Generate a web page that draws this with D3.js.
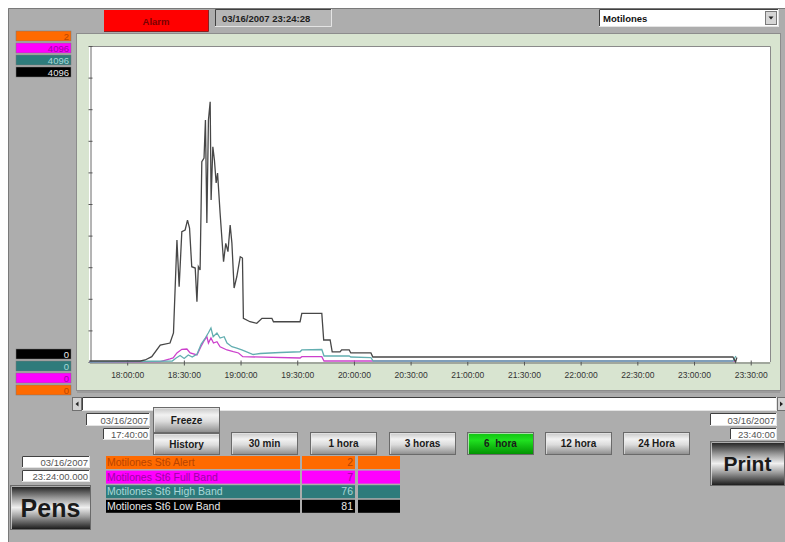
<!DOCTYPE html>
<html>
<head>
<meta charset="utf-8">
<script src="https://cdn.jsdelivr.net/npm/d3@7"></script>
<style>
  body { margin: 0; background: #fff; }
  svg { display: block; font-family: "Liberation Sans", Arial, sans-serif; }
</style>
</head>
<body>
<div id="chart"></div>
<script>
// pens: name, current value, scale min/max
var penNames = ["Motilones St6 Alert", "Motilones St6 Full Band", "Motilones St6 High Band", "Motilones St6 Low Band"];
var penValues = [2, 7, 76, 81];
var penMax = [2, 4096, 4096, 4096];
var penMin = [0, 0, 0, 0];

// x ticks
var tickLabels = ["18:00:00", "18:30:00", "19:00:00", "19:30:00", "20:00:00", "20:30:00",
  "21:00:00", "21:30:00", "22:00:00", "22:30:00", "23:00:00", "23:30:00"];
var timeStart = "17:40:00", timeEnd = "23:40:00";
var timeButtons = ["30 min", "1 hora", "3 horas", "6  hora", "12 hora", "24 Hora"];

// series [time, value]
var lowBand = [
  ["17:40:00", 13], ["18:07:00", 13], ["18:09:30", 26], ["18:13:00", 69], ["18:17:30", 220],
  ["18:22:40", 246], ["18:24:30", 376], ["18:26:20", 1581], ["18:27:30", 976], ["18:28:55", 1689],
  ["18:30:40", 1711], ["18:31:55", 1840], ["18:33:00", 1737], ["18:34:10", 1235], ["18:36:00", 1218],
  ["18:36:55", 781], ["18:37:40", 1235], ["18:38:35", 1192], ["18:39:30", 2596], ["18:40:40", 2644],
  ["18:41:25", 3136], ["18:42:10", 1801], ["18:43:00", 3136], ["18:43:55", 3373], ["18:44:25", 2100],
  ["18:45:20", 2790], ["18:46:10", 2618], ["18:47:05", 2320], ["18:47:50", 2449], ["18:49:10", 1931],
  ["18:51:00", 1300], ["18:52:10", 1538], ["18:53:20", 1430], ["18:54:30", 1776], ["18:55:25", 1542],
  ["18:56:35", 959], ["18:58:00", 1105], ["18:59:50", 1365], ["19:01:00", 1348], ["19:01:30", 566],
  ["19:05:00", 522], ["19:08:35", 502], ["19:11:20", 566], ["19:16:35", 566], ["19:17:25", 522],
  ["19:31:30", 522], ["19:32:25", 629], ["19:43:00", 629], ["19:44:00", 285], ["19:47:25", 285],
  ["19:48:30", 130], ["19:52:40", 130], ["19:53:30", 156], ["19:57:30", 156], ["19:58:20", 117],
  ["20:09:00", 117], ["20:10:00", 65], ["23:20:35", 65], ["23:22:00", 0], ["23:22:40", 58]
];
var highBand = [
  ["17:40:00", 0], ["18:23:50", 13], ["18:25:55", 52], ["18:28:00", 84], ["18:30:10", 45],
  ["18:32:20", 91], ["18:34:25", 65], ["18:37:00", 104], ["18:39:10", 233], ["18:41:20", 311],
  ["18:42:55", 376], ["18:44:20", 441], ["18:45:30", 328], ["18:47:30", 376], ["18:49:10", 311],
  ["18:51:20", 328], ["18:52:50", 246], ["18:55:25", 198], ["18:58:00", 181], ["19:00:40", 156],
  ["19:06:40", 97], ["19:10:25", 110], ["19:21:00", 123], ["19:31:30", 133], ["19:32:25", 156],
  ["19:43:00", 162], ["19:44:10", 78], ["19:57:30", 78], ["19:58:20", 65], ["20:09:00", 58],
  ["20:10:10", 13], ["23:20:35", 13], ["23:22:10", 78]
];
var fullBand = [
  ["17:40:00", 0], ["18:17:30", 6], ["18:22:40", 39], ["18:24:20", 52], ["18:26:20", 117],
  ["18:28:55", 165], ["18:31:35", 168], ["18:33:20", 117], ["18:36:55", 91], ["18:39:00", 198],
  ["18:40:25", 263], ["18:42:10", 328], ["18:43:00", 246], ["18:44:20", 311], ["18:45:40", 246],
  ["18:47:30", 263], ["18:49:10", 198], ["18:52:50", 156], ["18:56:10", 133], ["18:58:55", 117],
  ["19:01:10", 69], ["19:31:30", 52], ["19:32:25", 69], ["19:43:00", 69], ["19:44:10", 13],
  ["23:22:10", 13]
];

// 0:orange 1:magenta 2:teal 3:black
var penFill = ["#ff6a00", "#ff00ff", "#2e7b7b", "#000000"];
var penText = ["#b84400", "#a000a8", "#a8d8d8", "#e8e8e8"];

var parse = d3.timeParse("%H:%M:%S");
var W = 785, H = 542;

var svg = d3.select("#chart").append("svg")
  .attr("width", W)
  .attr("height", H);

var defs = svg.append("defs");
function grad(id, stops) {
  var g = defs.append("linearGradient").attr("id", id)
    .attr("x1", 0).attr("y1", 0).attr("x2", 0).attr("y2", 1);
  stops.forEach(function(s){ g.append("stop").attr("offset", s[0]).attr("stop-color", s[1]); });
}
grad("silver", [[0, "#c4c4c4"], [0.3, "#f2f2f2"], [0.55, "#dcdcdc"], [1, "#8c8c8c"]]);
grad("green", [[0, "#10c010"], [0.35, "#20e020"], [1, "#009000"]]);
grad("big", [[0, "#181818"], [0.3, "#a0a0a0"], [0.5, "#f0f0f0"], [0.7, "#a0a0a0"], [1, "#181818"]]);

// background
svg.append("rect").attr("width", W).attr("height", H).attr("fill", "#fff");
svg.append("rect").attr("x", 8).attr("y", 8).attr("width", W - 8).attr("height", H - 8).attr("fill", "#adadad");
svg.append("path").attr("d", "M8.5," + H + "V8.5H" + W).attr("fill", "none").attr("stroke", "#7a7a7a");

// sunken box helper
function sunken(x, y, w, h, fill) {
  var g = svg.append("g");
  g.append("rect").attr("x", x).attr("y", y).attr("width", w).attr("height", h).attr("fill", fill);
  g.append("path").attr("d", "M" + (x + .5) + "," + (y + h) + "V" + (y + .5) + "H" + (x + w))
    .attr("fill", "none").attr("stroke", "#404040");
  g.append("path").attr("d", "M" + (x + w - .5) + "," + y + "V" + (y + h - .5) + "H" + x)
    .attr("fill", "none").attr("stroke", "#e4e4e4");
  return g;
}

function button(x, y, w, h, label, fillId, size) {
  var g = svg.append("g");
  g.append("rect").attr("x", x + .5).attr("y", y + .5).attr("width", w - 1).attr("height", h - 1)
    .attr("fill", "url(#" + fillId + ")").attr("stroke", "#6a6a6a");
  g.append("path").attr("d", "M" + (x + 1.5) + "," + (y + h - 1) + "V" + (y + 1.5) + "H" + (x + w - 1))
    .attr("fill", "none").attr("stroke", "#e8e8e8").attr("opacity", 0.7);
  g.append("text").attr("x", x + w / 2).attr("y", y + h / 2 + size * 0.36)
    .attr("text-anchor", "middle").attr("font-weight", "bold").attr("font-size", size)
    .attr("fill", "#1a1a1a").style("white-space", "pre").text(label);
  return g;
}

// top bar
svg.append("rect").attr("x", 104).attr("y", 10).attr("width", 104).attr("height", 21).attr("fill", "#ff0000");
svg.append("path").attr("d", "M208.5,10V31.5H104").attr("fill", "none").attr("stroke", "#8a2020");
svg.append("text").attr("x", 156).attr("y", 24.5).attr("text-anchor", "middle")
  .attr("font-size", 9.5).attr("font-weight", "bold").attr("fill", "#7a0000").text("Alarm");

sunken(215, 9, 117, 18, "#b6b6b6");
svg.append("text").attr("x", 222).attr("y", 21.5).attr("font-size", 9.5).attr("font-weight", "bold")
  .attr("fill", "#1e1e1e").text("03/16/2007 23:24:28");

sunken(599, 9, 180, 18, "#ffffff");
svg.append("text").attr("x", 603).attr("y", 21.5).attr("font-size", 9.5).attr("font-weight", "bold")
  .attr("fill", "#111").text("Motilones");
svg.append("rect").attr("x", 765.5).attr("y", 11.5).attr("width", 11).attr("height", 13)
  .attr("fill", "#d6d6d6").attr("stroke", "#7a7a7a");
svg.append("path").attr("d", "M768.5,16.5h5l-2.5,3z").attr("fill", "#222");

// scale boxes
penNames.forEach(function(n, i) {
  var y = 31 + i * 12;
  svg.append("rect").attr("x", 16).attr("y", y).attr("width", 55).attr("height", 10).attr("fill", penFill[i])
    .attr("stroke", "#777").attr("stroke-width", 0.5);
  svg.append("text").attr("x", 69).attr("y", y + 8.5).attr("text-anchor", "end").attr("font-size", 9.5)
    .attr("fill", penText[i]).text(penMax[i]);
});
[3, 2, 1, 0].forEach(function(i, j) {
  var y = 349 + j * 12;
  svg.append("rect").attr("x", 16).attr("y", y).attr("width", 55).attr("height", 10).attr("fill", penFill[i])
    .attr("stroke", "#777").attr("stroke-width", 0.5);
  svg.append("text").attr("x", 69).attr("y", y + 8.5).attr("text-anchor", "end").attr("font-size", 9.5)
    .attr("fill", penText[i]).text(penMin[i]);
});

// chart panel
svg.append("rect").attr("x", 76.5).attr("y", 33.5).attr("width", 704).attr("height", 357)
  .attr("fill", "#d8e4d0").attr("stroke", "#8c8c8c");
svg.append("line").attr("x1", 77).attr("x2", 780).attr("y1", 392).attr("y2", 392).attr("stroke", "#8a8a8a");
svg.append("rect").attr("x", 89).attr("y", 46).attr("width", 681).attr("height", 316).attr("fill", "#fff");
svg.append("path").attr("d", "M89,46.5H770.5V362").attr("fill", "none").attr("stroke", "#8a8a8a");

var x = d3.scaleTime()
  .domain([parse(timeStart), parse(timeEnd)])
  .range([89.4, 769.6]);
var y = d3.scaleLinear()
  .domain([0, 4096])
  .range([362, 46]);

var yAxis = svg.append("g").attr("transform", "translate(90.5,0)")
  .call(d3.axisLeft(y).tickValues(d3.range(0, 11).map(function(k){ return k * 409.6; }))
    .tickSize(2).tickSizeOuter(0).tickFormat(""));
yAxis.selectAll(".tick line").attr("x2", -2).attr("x1", 2).attr("stroke", "#555");
yAxis.select(".domain").attr("stroke", "#6a6a6a");

var xAxis = svg.append("g").attr("transform", "translate(0,362.5)")
  .call(d3.axisBottom(x).tickValues(tickLabels.map(parse))
    .tickFormat(function(d, i){ return tickLabels[i]; })
    .tickSizeInner(4).tickSizeOuter(0));
xAxis.select(".domain").attr("stroke", "#6a6a6a");
xAxis.selectAll(".tick line").attr("y1", -2).attr("y2", 3).attr("stroke", "#555");
xAxis.selectAll(".tick text").attr("y", 9).attr("font-size", 8.5)
  .attr("font-family", "\"Liberation Sans\", Arial, sans-serif").attr("fill", "#333");

var line = d3.line()
  .x(function(d){ return x(parse(d[0])); })
  .y(function(d){ return y(d[1]); });

[[fullBand, "#cc40cc"], [highBand, "#62aeb0"], [lowBand, "#474747"]].forEach(function(s) {
  svg.append("path").datum(s[0]).attr("d", line)
    .attr("fill", "none").attr("stroke", s[1]).attr("stroke-width", 1.3);
});

// scrollbar
svg.append("rect").attr("x", 72.5).attr("y", 397.5).attr("width", 9).attr("height", 13)
  .attr("fill", "#d4d4d4").attr("stroke", "#707070");
svg.append("path").attr("d", "M75.5,404l3,-2.5v5z").attr("fill", "#222");
sunken(82, 397, 695, 14, "#ffffff");
svg.append("rect").attr("x", 777.5).attr("y", 397.5).attr("width", 9).attr("height", 13)
  .attr("fill", "#d4d4d4").attr("stroke", "#707070");
svg.append("path").attr("d", "M783,404l-3,-2.5v5z").attr("fill", "#222");

// date boxes
function dateBox(bx, by, bw, bh, txt) {
  sunken(bx, by, bw, bh, "#ffffff");
  svg.append("text").attr("x", bx + bw - 2).attr("y", by + bh - 2.5).attr("text-anchor", "end")
    .attr("font-size", 9.5).attr("fill", "#555").text(txt);
}
dateBox(86, 413, 64, 13, "03/16/2007");
dateBox(103, 428, 47, 12, timeStart);
dateBox(710, 413, 67, 13, "03/16/2007");
dateBox(730, 428, 47, 12, timeEnd);
dateBox(22, 456, 68, 12, "03/16/2007");
dateBox(22, 470, 68, 12, "23:24:00.000");

button(153, 407, 67, 26, "Freeze", "silver", 10);
button(153, 433, 67, 22, "History", "silver", 10);
var btnX = [231, 310, 389, 467, 545, 623];
timeButtons.forEach(function(b, i) {
  button(btnX[i], 432, 67, 23, b, i == 3 ? "green" : "silver", 10);
});
button(710, 441, 75, 45, "Print", "big", 21);
button(10, 485, 81, 45, "Pens", "big", 25);

// pen legend table
penNames.forEach(function(n, i) {
  var ry = 456 + i * 14.6;
  svg.append("rect").attr("x", 106).attr("y", ry).attr("width", 194).attr("height", 13).attr("fill", penFill[i]);
  svg.append("rect").attr("x", 302).attr("y", ry).attr("width", 53).attr("height", 13).attr("fill", penFill[i]);
  svg.append("rect").attr("x", 358).attr("y", ry).attr("width", 42).attr("height", 13).attr("fill", penFill[i]);
  svg.append("text").attr("x", 107).attr("y", ry + 10).attr("font-size", 10.5).attr("fill", penText[i]).text(n);
  svg.append("text").attr("x", 353).attr("y", ry + 10).attr("text-anchor", "end").attr("font-size", 10.5)
    .attr("fill", penText[i]).text(penValues[i]);
});
</script>
</body>
</html>
